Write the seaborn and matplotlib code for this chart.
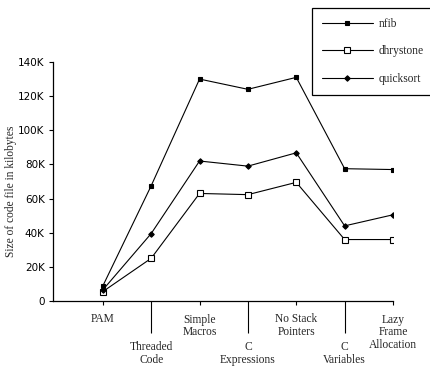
import numpy as np
import pandas as pd
import matplotlib.pyplot as plt
import seaborn as sns

stages = ["PAM", "Threaded\nCode", "Simple\nMacros", "C\nExpressions",
          "No Stack\nPointers", "C\nVariables", "Lazy\nFrame\nAllocation"]
nfib = [8800, 67500, 130000, 124000, 131000, 77500, 77000]
dhrystone = [5500, 25000, 63000, 62300, 69500, 36000, 36000]
quicksort = [6500, 39500, 82000, 79000, 86800, 44000, 50500]
yticks = [0, 20000, 40000, 60000, 80000, 100000, 120000, 140000]
ylabels = ["0", "20K", "40K", "60K", "80K", "100K", "120K", "140K"]

sns.set_style("white")
plt.rcParams["font.family"] = ["DejaVu Sans"]

fig = plt.figure(figsize=(4.31, 3.67), dpi=100)
ax = fig.add_axes([53 / 431, 1 - 301 / 367, (393 - 53) / 431, (301 - 62) / 367])

pos = np.arange(len(stages))
df = pd.DataFrame({
    "stage": np.tile(pos, 3),
    "size": nfib + dhrystone + quicksort,
    "prog": ["nfib"] * 7 + ["dhrystone"] * 7 + ["quicksort"] * 7,
})
styles = {"nfib": dict(marker="s", ms=3, mfc="black"),
          "dhrystone": dict(marker="s", ms=4.5, mfc="white"),
          "quicksort": dict(marker="D", ms=2.8, mfc="black")}
for name in ["nfib", "dhrystone", "quicksort"]:
    sub = df[df["prog"] == name]
    sns.lineplot(data=sub, x="stage", y="size", ax=ax, color="black", lw=0.8,
                 mec="black", mew=0.8, label=name, legend=False, **styles[name])

ax.set_xlim(-1.03, 6)
ax.set_ylim(0, 140000)
sns.despine(ax=ax)
for s in ["left", "bottom"]:
    ax.spines[s].set_linewidth(0.9)
    ax.spines[s].set_color("black")

ax.set_yticks(yticks)
ax.set_yticklabels(ylabels, fontsize=7.5, color="black")
ax.tick_params(axis="y", direction="out", length=3, width=0.8, color="black", pad=3, left=True)

serif = ["Liberation Serif"]
ax.set_xticks(pos[::2])
ax.set_xticklabels(stages[::2], fontsize=8.3, family=serif, linespacing=1.1)
ax.set_xticks(pos[1::2], minor=True)
ax.set_xticklabels(stages[1::2], minor=True, fontsize=8.3, family=serif, linespacing=1.1)
ax.tick_params(axis="x", which="major", direction="out", length=3, width=0.8, color="black", pad=6, bottom=True)
ax.tick_params(axis="x", which="minor", direction="out", length=23, width=0.8, color="black", pad=6, bottom=True)

ax.set_xlabel("")
ax.set_ylabel("Size of code file in kilobytes", fontsize=8.3, family=serif)
ax.yaxis.set_label_coords(-0.105, 0.46)

handles = ax.get_lines()[:3]
leg = fig.legend(handles, ["nfib", "dhrystone", "quicksort"], loc="upper left",
                 bbox_to_anchor=(312 / 431, 1 - 8 / 367), borderaxespad=0,
                 frameon=True, fancybox=False, edgecolor="black", framealpha=1,
                 handlelength=4.4, handletextpad=0.55, labelspacing=1.35, borderpad=0.85,
                 prop={"family": "Liberation Serif", "size": 8.3})
leg.get_frame().set_linewidth(0.9)

fig.savefig("out.png", dpi=100)
